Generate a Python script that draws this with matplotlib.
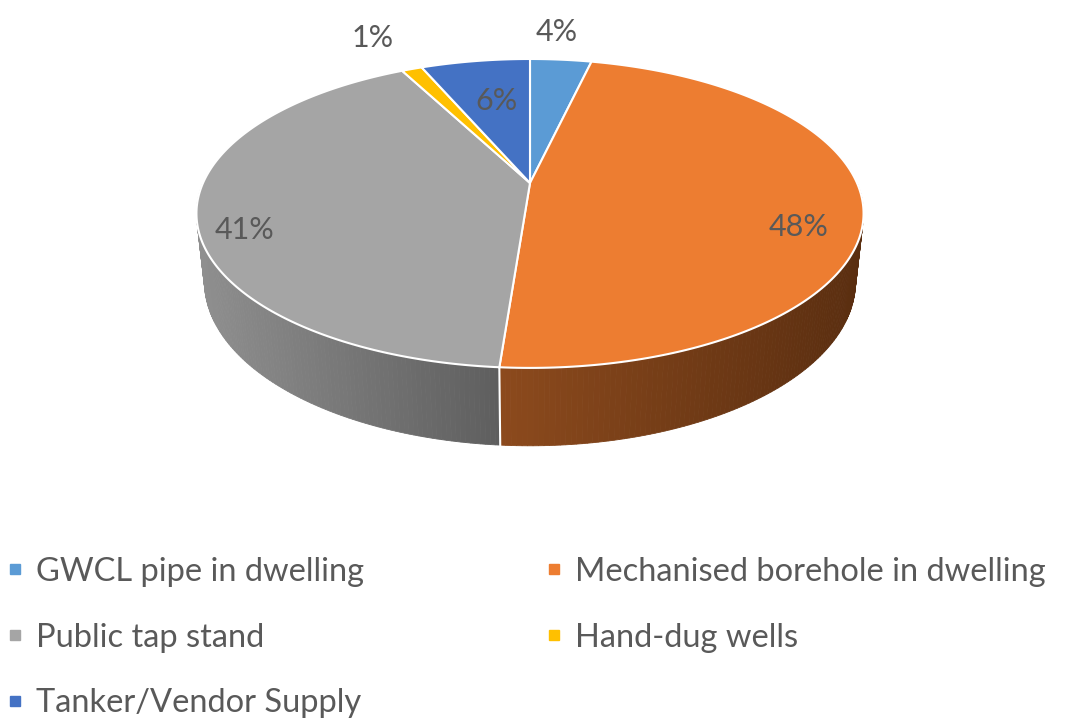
import numpy as np
import matplotlib.pyplot as plt
from matplotlib.patches import Polygon
from matplotlib.lines import Line2D

## data
labels = ['GWCL pipe in dwelling', 'Mechanised borehole in dwelling',
          'Public tap stand', 'Hand-dug wells', 'Tanker/Vendor Supply']
values = [3.6, 47.6, 41.2, 1.2, 6.4]   # shares
colors = ['#5B9BD5', '#ED7D31', '#A5A5A5', '#FFC000', '#4472C4']
# side shading (left, right) for each slice
side_colors = [('#3f6f9c', '#2b4f70'), ('#8c4a1d', '#5a2e10'),
               ('#8f8f8f', '#5e5e5e'), ('#b88a00', '#8a6800'), ('#30548f', '#223d68')]
# label placement: radius factor, nudge x, nudge y (px)
label_pos = [(1.25, -10, -3), (0.84, -10, 25), (0.84, -7, 21), (1.3, -10, -3), (0.6, 2, -4)]

## projection params (pixel space)
cx, cy = 530, 183
phi = np.radians(27)
D = 4.52
f = 327 * D
h = 0.236


def project(a, r=1.0, z=0.0):
    x = r * np.sin(a)
    y = r * np.cos(a)
    up = y * np.sin(phi) + z * np.cos(phi)
    depth = D + y * np.cos(phi) - z * np.sin(phi)
    return cx + f * x / depth, cy - f * up / depth


def mix(c1, c2, t):
    a = np.array(plt.matplotlib.colors.to_rgb(c1))
    b = np.array(plt.matplotlib.colors.to_rgb(c2))
    return tuple(a + (b - a) * t)


fig = plt.figure(figsize=(10.67, 7.21), dpi=100)
ax = fig.add_axes([0, 0, 1, 1])
ax.set_xlim(0, 1067)
ax.set_ylim(721, 0)
ax.axis('off')

fracs = np.array(values) / sum(values)
bounds = np.concatenate([[0], np.cumsum(fracs)]) * 2 * np.pi

# side walls (front half only)
for i in range(len(values)):
    a0 = max(bounds[i], np.pi / 2)
    a1 = min(bounds[i + 1], 3 * np.pi / 2)
    if a1 <= a0:
        continue
    angs = np.linspace(a0, a1, 120)
    xs = [project(a)[0] for a in angs]
    xmin, xmax = min(xs), max(xs)
    for k in range(len(angs) - 1):
        p1 = project(angs[k]); p2 = project(angs[k + 1])
        p3 = project(angs[k + 1], z=-h); p4 = project(angs[k], z=-h)
        t = ((p1[0] + p2[0]) / 2 - xmin) / (xmax - xmin)
        c = mix(side_colors[i][0], side_colors[i][1], t)
        ax.add_patch(Polygon([p1, p2, p3, p4], closed=True, facecolor=c,
                             edgecolor=c, lw=0.6, zorder=1))

# white seam between slices on side
for b in bounds[1:-1]:
    if np.pi / 2 < b < 3 * np.pi / 2:
        p_top = project(b); p_bot = project(b, z=-h)
        ax.plot([p_top[0], p_bot[0]], [p_top[1], p_bot[1]], color='white', lw=1.5, zorder=2)

# top faces
for i in range(len(values)):
    angs = np.linspace(bounds[i], bounds[i + 1], 200)
    pts = [project(0, 0)] + [project(a) for a in angs]
    ax.add_patch(Polygon(pts, closed=True, facecolor=colors[i], edgecolor='white',
                         lw=1.5, zorder=3))

# labels
for i in range(len(values)):
    mid = (bounds[i] + bounds[i + 1]) / 2
    r, dx, dy = label_pos[i]
    lx, ly = project(mid, r)
    ax.text(lx + dx, ly + dy, f'{values[i]:.0f}%', ha='center', va='center', fontsize=22,
            color='#595959', family='Lato', zorder=5)

# legend (row-wise order like Excel)
order = [0, 2, 4, 1, 3]
handles = [Line2D([], [], marker='s', linestyle='none', markersize=7.5,
                  markerfacecolor=colors[i], markeredgecolor=colors[i]) for i in order]
leg = ax.legend(handles, [labels[i] for i in order], ncol=2, loc='upper left',
                bbox_to_anchor=(-0.006, 0.246), frameon=False,
                prop={'family': 'Lato', 'size': 23.5}, labelcolor='#595959',
                handlelength=0.5, handletextpad=0.4, columnspacing=5.57,
                labelspacing=1.1, borderaxespad=0.0)

fig.savefig('out.png', dpi=100)
